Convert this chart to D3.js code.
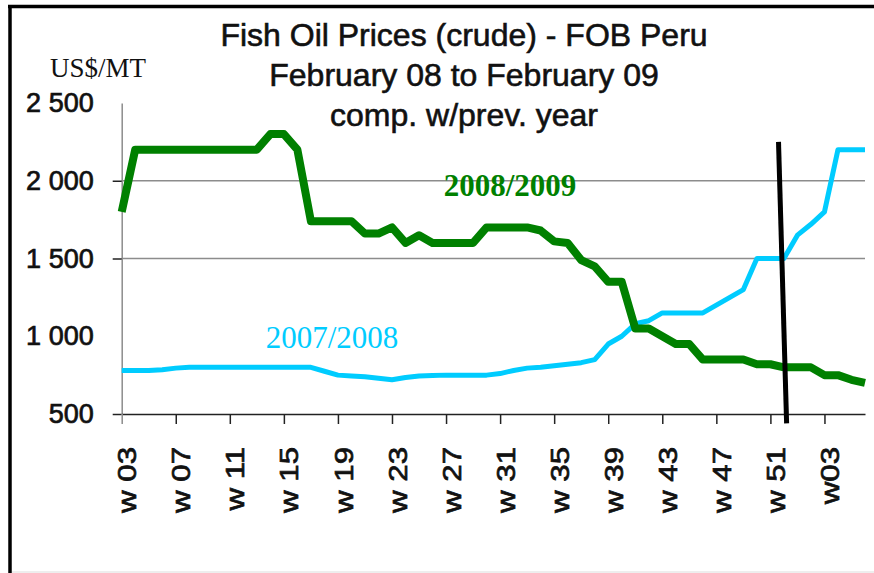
<!DOCTYPE html>
<html>
<head>
<meta charset="utf-8">
<title>Fish Oil Prices (crude) - FOB Peru</title>
<style>
body{margin:0;background:#fff;}
</style>
</head>
<body>
<script src="https://cdnjs.cloudflare.com/ajax/libs/d3/7.8.5/d3.min.js"></script>
<script>

// weeks from 2008 w03 to 2009 w06
var weeks = ["08w03","08w04","08w05","08w06","08w07","08w08","08w09","08w10","08w11","08w12",
             "08w13","08w14","08w15","08w16","08w17","08w18","08w19","08w20","08w21","08w22",
             "08w23","08w24","08w25","08w26","08w27","08w28","08w29","08w30","08w31","08w32",
             "08w33","08w34","08w35","08w36","08w37","08w38","08w39","08w40","08w41","08w42",
             "08w43","08w44","08w45","08w46","08w47","08w48","08w49","08w50","08w51","08w52",
             "09w01","09w02","09w03","09w04","09w05","09w06"];

var tickWeeks  = ["08w03","08w07","08w11","08w15","08w19","08w23","08w27","08w31","08w35","08w39","08w43","08w47","08w51","09w03"];
var tickLabels = ["w 03","w 07","w 11","w 15","w 19","w 23","w 27","w 31","w 35","w 39","w 43","w 47","w 51","w03"];

var yTicks = [500,1000,1500,2000,2500];
var gridValues = [1500,2000];

// 2008/2009 (green)
var prices0809 = [1800,2200,2200,2200,2200,2200,2200,2200,2200,2200,
                  2200,2300,2300,2200,1740,1740,1740,1740,1660,1660,
                  1700,1600,1650,1600,1600,1600,1600,1700,1700,1700,
                  1700,1680,1610,1600,1490,1450,1350,1350,1050,1050,
                  1000,950,950,850,850,850,850,820,820,800,
                  800,800,750,750,720,700];

// 2007/2008 (light blue)
var prices0708 = [780,780,780,785,795,800,800,800,800,800,
                  800,800,800,800,800,775,750,745,740,730,
                  720,735,745,748,750,750,750,750,760,780,
                  795,800,810,820,830,850,950,1000,1080,1100,
                  1150,1150,1150,1150,1200,1250,1300,1500,1500,1500,
                  1650,1720,1800,2200,2200,2200];

// hand drawn separator (week index, price)
var cutLine = [[48.6,2250],[49.2,440]];

var W = 874, H = 573;
var sans = 'Liberation Sans, Arial, sans-serif';
var serif = 'Liberation Serif, Times New Roman, serif';

var svg = d3.select('body').append('svg')
	.attr('width',W)
	.attr('height',H);

svg.append('rect').attr('width',W).attr('height',H).attr('fill','#fff');

var x = d3.scalePoint().domain(weeks).range([121.7,865]);
var xi = d3.scaleLinear().domain([0,weeks.length-1]).range([121.7,865]);
var y = d3.scaleLinear().domain([500,2500]).range([414,103]);

// frame
svg.append('line').attr('x1',8).attr('x2',W).attr('y1',6.5).attr('y2',6.5)
	.attr('stroke','#000').attr('stroke-width',3.5);
svg.append('line').attr('x1',10).attr('x2',10).attr('y1',5).attr('y2',H)
	.attr('stroke','#000').attr('stroke-width',3.5);
svg.append('line').attr('x1',12).attr('x2',W).attr('y1',572).attr('y2',572)
	.attr('stroke','#ddd').attr('stroke-width',1);

// gridlines
svg.selectAll('.grid').data(gridValues).enter().append('line')
	.attr('class','grid')
	.attr('x1',121.7).attr('x2',865)
	.attr('y1',function(d){return y(d)}).attr('y2',function(d){return y(d)})
	.attr('stroke','#8c8c8c').attr('stroke-width',1.5);

// y axis
var fmt = d3.formatLocale({decimal:'.',thousands:' ',grouping:[3],currency:['','']}).format(',');
var gy = svg.append('g').attr('transform','translate(121.7,0)')
	.call(d3.axisLeft(y).tickValues(yTicks).tickFormat(fmt).tickSize(9).tickSizeOuter(0).tickPadding(19));
gy.select('.domain').attr('stroke','#8c8c8c').attr('stroke-width',1.5);
gy.selectAll('.tick line')
	.attr('stroke',function(d){return (d==1000||d==2500) ? 'none' : '#222'})
	.attr('stroke-width',1.5);
gy.selectAll('.tick text')
	.attr('font-family',sans).attr('font-size',27).attr('fill','#111')
	.attr('stroke','#111').attr('stroke-width',0.7);

// x axis
var gx = svg.append('g').attr('transform','translate(0,414)')
	.call(d3.axisBottom(x).tickValues(tickWeeks).tickFormat(function(d,i){return tickLabels[i]}).tickSize(10).tickSizeOuter(0));
gx.select('.domain').attr('stroke','#222').attr('stroke-width',1.5);
gx.selectAll('.tick line')
	.attr('stroke',function(d,i){return i==0 ? '#8c8c8c' : '#222'})
	.attr('stroke-width',1.5);
gx.selectAll('.tick text')
	.attr('x',0).attr('y',0).attr('dy','0.35em')
	.attr('text-anchor','end')
	.attr('transform','translate(5,33) rotate(-90) scale(1.2,1)')
	.attr('font-family',sans).attr('font-size',26).attr('fill','#111')
	.attr('stroke','#111').attr('stroke-width',0.7);

// series
var line = d3.line()
	.x(function(d,i){return x(weeks[i])})
	.y(function(d){return y(d)});

svg.append('path').datum(prices0708)
	.attr('d',line)
	.attr('fill','none')
	.attr('stroke','#00ccff')
	.attr('stroke-width',5)
	.attr('stroke-linejoin','round');

svg.append('path').datum(prices0809)
	.attr('d',line)
	.attr('fill','none')
	.attr('stroke','#008000')
	.attr('stroke-width',8)
	.attr('stroke-linejoin','round');

svg.append('line')
	.attr('x1',xi(cutLine[0][0])).attr('y1',y(cutLine[0][1]))
	.attr('x2',xi(cutLine[1][0])).attr('y2',y(cutLine[1][1]))
	.attr('stroke','#000').attr('stroke-width',5);

// series labels
svg.append('text').attr('x',510).attr('y',196)
	.attr('text-anchor','middle')
	.attr('font-family',serif).attr('font-weight','bold').attr('font-size',31)
	.attr('fill','#008000')
	.text('2008/2009');

svg.append('text').attr('x',332).attr('y',348)
	.attr('text-anchor','middle')
	.attr('font-family',serif).attr('font-size',31)
	.attr('fill','#00ccff')
	.text('2007/2008');

// title
var titles = ['Fish Oil Prices (crude) - FOB Peru','February 08 to February 09','comp. w/prev. year'];
svg.selectAll('.title').data(titles).enter().append('text')
	.attr('class','title')
	.attr('x',464)
	.attr('y',function(d,i){return 46+i*40})
	.attr('text-anchor','middle')
	.attr('font-family',sans).attr('font-size',32).attr('fill','#111')
	.attr('stroke','#111').attr('stroke-width',0.6)
	.text(function(d){return d});

svg.append('text').attr('x',50).attr('y',77)
	.attr('font-family',serif).attr('font-size',27).attr('fill','#111')
	.text('US$/MT');

</script>
</body>
</html>
